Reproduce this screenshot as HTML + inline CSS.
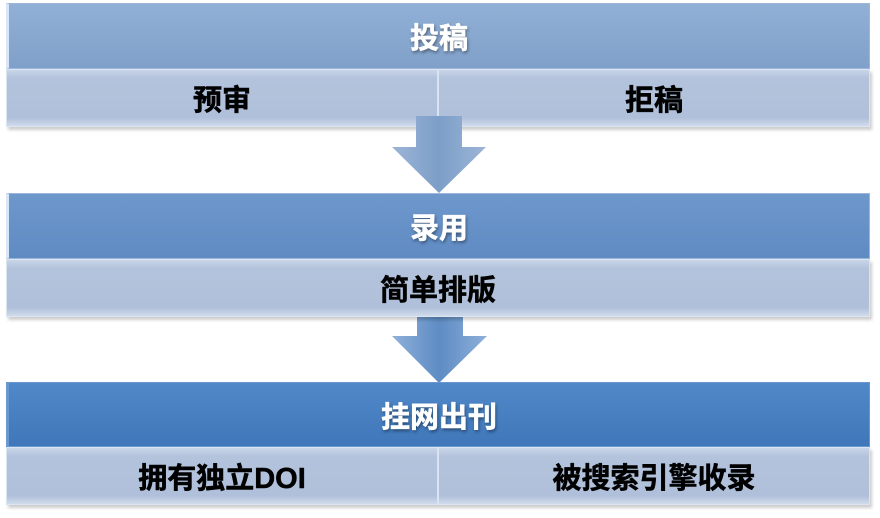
<!DOCTYPE html>
<html><head><meta charset="utf-8"><style>
body{margin:0;width:880px;height:518px;background:#fff;position:relative;overflow:hidden;font-family:"Liberation Sans","Noto Sans CJK SC",sans-serif;font-weight:bold}
.b{position:absolute;display:flex;align-items:center;justify-content:center;font-size:29px;box-sizing:border-box;-webkit-text-stroke:0.5px currentColor}
.h{color:#fff;text-shadow:1px 2px 3px rgba(0,0,0,.45);border:1px solid #9db7dc;border-left:3px solid #d8e6f8}
.s{color:#000;background:linear-gradient(#c9d5e8,#b3c3dc 15%,#b0c0da 85%,#d0dbec);border:1px solid #dbe4f1;box-shadow:2px 3px 3px rgba(0,0,0,.2)}
</style></head><body>
<div class="b h" style="left:6px;top:3px;width:864px;height:66px;background:linear-gradient(#92b0d6,#7fa0c9)">投稿</div>
<div class="b s" style="left:6px;top:69px;width:432px;height:58px">预审</div>
<div class="b s" style="left:438px;top:69px;width:432px;height:58px">拒稿</div>
<svg style="position:absolute;left:0;top:0" width="880" height="518">
<defs><linearGradient id="g" x1="0" x2="1"><stop offset="0" stop-color="#9db5d6"/><stop offset=".5" stop-color="#7c9ec8"/><stop offset="1" stop-color="#9db5d6"/></linearGradient>
<linearGradient id="g2" x1="0" x2="1"><stop offset="0" stop-color="#8fb0da"/><stop offset=".5" stop-color="#5e8cc4"/><stop offset="1" stop-color="#8fb0da"/></linearGradient></defs>
<polygon points="416,116 462,116 462,147 486,147 439,193 392,147 416,147" fill="url(#g)"/>
<polygon points="417,308 463,308 463,336 487,336 439,383 392,336 417,336" fill="url(#g2)"/>
</svg>
<div class="b h" style="left:6px;top:193px;width:864px;height:66px;background:linear-gradient(#6e98cc,#5f8bc3)">录用</div>
<div class="b s" style="left:6px;top:259px;width:864px;height:58px">简单排版</div>
<div class="b h" style="left:6px;top:382px;width:864px;height:65px;background:linear-gradient(#5088c8,#3f77ba);border-color:#6b97d0">挂网出刊</div>
<div class="b s" style="left:6px;top:447px;width:432px;height:58px">拥有独立DOI</div>
<div class="b s" style="left:438px;top:447px;width:432px;height:58px">被搜索引擎收录</div>
</body></html>
